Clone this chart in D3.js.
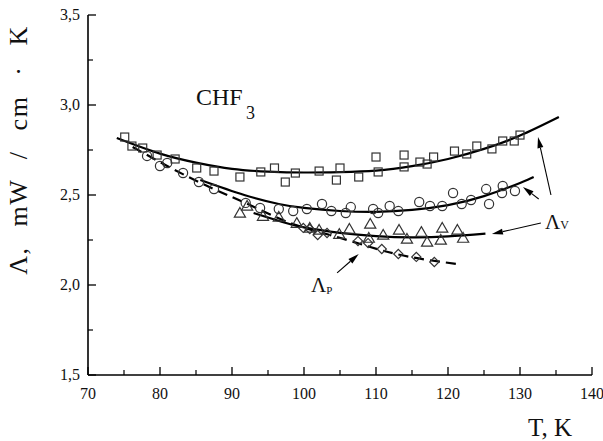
<!DOCTYPE html>
<html>
<head>
<meta charset="utf-8">
<script src="https://cdn.jsdelivr.net/npm/d3@7"></script>
<style>
  html, body { margin: 0; padding: 0; background: #fff; }
  svg text { font-family: "Liberation Serif", "DejaVu Serif", serif; fill: #111; }
</style>
</head>
<body>
<svg id="chart" width="603" height="441"></svg>
<script>
// Thermal conductivity of CHF3: measured points [T (K), Λ (mW / cm·K)]
const squares = [
  [75.1,2.822],[76.1,2.772],[77.6,2.761],[79.6,2.722],[82.1,2.700],[85.1,2.650],
  [87.5,2.633],[91.1,2.600],[94.0,2.628],[95.9,2.650],[97.4,2.572],[98.8,2.622],
  [102.1,2.633],[104.5,2.583],[105.0,2.650],[107.6,2.600],[110.0,2.711],[110.3,2.628],
  [113.9,2.722],[113.9,2.656],[116.1,2.683],[117.1,2.672],[118.0,2.711],[120.9,2.744],
  [122.6,2.728],[124.0,2.772],[126.1,2.756],[127.6,2.800],[129.2,2.800],[130.0,2.833]
];
const circles = [
  [78.2,2.717],[80.0,2.661],[81.0,2.678],[83.2,2.622],[85.4,2.572],[87.5,2.533],
  [91.9,2.456],[93.9,2.428],[96.5,2.422],[98.5,2.411],[100.4,2.422],[102.5,2.450],
  [103.8,2.411],[105.8,2.400],[106.5,2.433],[109.6,2.422],[110.3,2.400],[111.9,2.439],
  [113.1,2.411],[116.0,2.461],[117.5,2.439],[119.2,2.439],[120.7,2.511],[121.9,2.450],
  [123.2,2.472],[125.3,2.533],[125.7,2.450],[127.5,2.511],[127.6,2.550],[129.3,2.522]
];
const triangles = [
  [91.1,2.400],[92.1,2.439],[94.3,2.383],[96.5,2.378],[99.0,2.344],[100.8,2.317],
  [102.1,2.306],[104.9,2.283],[106.3,2.311],[109.2,2.339],[109.0,2.261],[111.0,2.278],
  [113.2,2.306],[114.3,2.256],[116.3,2.294],[117.1,2.239],[119.0,2.250],[119.2,2.317],
  [121.3,2.306],[122.1,2.261]
];
const diamonds = [
  [99.9,2.317],[100.8,2.311],[101.9,2.278],[103.2,2.289],[107.5,2.244],[108.9,2.233],
  [110.8,2.200],[113.1,2.172],[115.6,2.156],[118.1,2.128]
];

// Fitted curves (Λv: solid, Λp: dashed)
const fitUpper = [[74.0,2.817],[80,2.730],[85,2.680],[90,2.645],[95,2.630],[100,2.625],
  [105,2.627],[110,2.635],[115,2.660],[120,2.700],[125,2.756],[130,2.830],[135.4,2.933]];
const fitMiddle = [[85.6,2.583],[91.7,2.500],[96.5,2.450],[100,2.428],[105,2.411],
  [110,2.406],[115,2.417],[120,2.444],[125,2.494],[130,2.567],[131.9,2.600]];
const fitLower = [[93.0,2.400],[97,2.350],[100,2.320],[105,2.290],[110,2.272],
  [115,2.265],[120,2.270],[125.2,2.285]];
const fitDashed = [[76.2,2.767],[82,2.640],[87.5,2.533],[92.5,2.444],[98.1,2.344],
  [103.6,2.278],[109.2,2.211],[114.7,2.156],[121.25,2.117]];

// Annotation arrows [from, to] in data units
const arrowsV = [
  [[134.3,2.500],[132.5,2.822]],
  [[132.6,2.478],[130.4,2.544]],
  [[132.9,2.344],[126.1,2.283]]
];
const arrowsP = [[[104.6,2.067],[107.6,2.172]]];

const xTicks = [70,80,90,100,110,120,130,140];
const yTicks = [1.5,2.0,2.5,3.0,3.5];
const yTickLabels = ["1,5","2,0","2,5","3,0","3,5"];

const svg = d3.select("#chart");
const x = d3.scaleLinear().domain([70,140]).range([88,592]);
const y = d3.scaleLinear().domain([1.5,3.5]).range([375,15]);

// Axes
const xAxis = svg.append("g").attr("transform", `translate(0,${y(1.5)})`);
xAxis.append("line").attr("x1", x(70)).attr("x2", x(140)).attr("stroke","#000").attr("stroke-width",1.6);
xAxis.selectAll(".mj").data(xTicks).join("line")
  .attr("x1", d => x(d)).attr("x2", d => x(d)).attr("y1", 0).attr("y2", -8)
  .attr("stroke","#000").attr("stroke-width",1.3);
xAxis.selectAll(".mn").data(d3.range(75,140,10)).join("line")
  .attr("x1", d => x(d)).attr("x2", d => x(d)).attr("y1", 0).attr("y2", -5)
  .attr("stroke","#000").attr("stroke-width",1.2);
xAxis.selectAll("text").data(xTicks).join("text")
  .attr("x", d => x(d)).attr("y", 24).attr("text-anchor","middle")
  .attr("font-size", 16).text(d => d);

const yAxis = svg.append("g").attr("transform", `translate(${x(70)},0)`);
yAxis.append("line").attr("y1", y(1.5)).attr("y2", y(3.5)).attr("stroke","#000").attr("stroke-width",1.6);
yAxis.selectAll(".mj").data(yTicks).join("line")
  .attr("y1", d => y(d)).attr("y2", d => y(d)).attr("x1", 0).attr("x2", 8)
  .attr("stroke","#000").attr("stroke-width",1.3);
yAxis.selectAll(".mn").data([1.75,2.25,2.75,3.25]).join("line")
  .attr("y1", d => y(d)).attr("y2", d => y(d)).attr("x1", 0).attr("x2", 5)
  .attr("stroke","#000").attr("stroke-width",1.2);
yAxis.selectAll("text").data(yTicks).join("text")
  .attr("x", -8).attr("y", d => y(d) + 5).attr("text-anchor","end")
  .attr("font-size", 16).text((d,i) => yTickLabels[i]);

// Axis titles
svg.append("text").attr("x", 572).attr("y", 436).attr("text-anchor","end")
  .attr("font-size", 25).text("T, K");
svg.append("text")
  .attr("transform", `translate(27,150) rotate(-90)`)
  .attr("text-anchor","middle").attr("font-size", 26)
  .attr("letter-spacing", 1.5).attr("word-spacing", 12)
  .text("Λ, mW / cm · K");

// Substance label
svg.append("text").attr("x", 196).attr("y", 105).attr("font-size", 24).text("CHF");
svg.append("text").attr("x", 246).attr("y", 119).attr("font-size", 18).text("3");

// Curves
const line = d3.line().x(d => x(d[0])).y(d => y(d[1])).curve(d3.curveNatural);
const curves = svg.append("g").attr("fill","none").attr("stroke","#000");
[fitUpper, fitMiddle, fitLower].forEach(c =>
  curves.append("path").attr("d", line(c)).attr("stroke-width", 2.2));
curves.append("path").attr("d", line(fitDashed)).attr("stroke-width", 2.2)
  .attr("stroke-dasharray", "10,6");

// Markers
const mk = svg.append("g").attr("fill","none").attr("stroke","#333").attr("stroke-width",1.2);
mk.selectAll("rect").data(squares).join("rect")
  .attr("x", d => x(d[0]) - 4).attr("y", d => y(d[1]) - 4).attr("width", 8).attr("height", 8);
mk.selectAll("circle").data(circles).join("circle")
  .attr("cx", d => x(d[0])).attr("cy", d => y(d[1])).attr("r", 4.6);
const tri = d3.symbol().type(d3.symbolTriangle).size(54);
mk.selectAll(".tri").data(triangles).join("path")
  .attr("transform", d => `translate(${x(d[0])},${y(d[1]) + 1})`).attr("d", tri);
const dia = d3.symbol().type(d3.symbolSquare).size(42);
mk.selectAll(".dia").data(diamonds).join("path")
  .attr("transform", d => `translate(${x(d[0])},${y(d[1])}) rotate(45)`).attr("d", dia);

// Arrows
function arrow(a) {
  const x1 = x(a[0][0]), y1 = y(a[0][1]), x2 = x(a[1][0]), y2 = y(a[1][1]);
  const ang = Math.atan2(y2 - y1, x2 - x1), L = 11, W = 3;
  const bx = x2 - L * Math.cos(ang), by = y2 - L * Math.sin(ang);
  svg.append("line").attr("x1", x1).attr("y1", y1).attr("x2", bx).attr("y2", by)
    .attr("stroke","#000").attr("stroke-width",1.1);
  const px = -Math.sin(ang) * W, py = Math.cos(ang) * W;
  svg.append("path")
    .attr("d", `M${x2},${y2}L${bx + px},${by + py}L${bx - px},${by - py}Z`)
    .attr("fill","#000");
}
arrowsV.forEach(arrow);
arrowsP.forEach(arrow);

// Λv / Λp labels
const lv = svg.append("text").attr("x", 545).attr("y", 229).attr("font-size", 21);
lv.append("tspan").text("Λ");
lv.append("tspan").attr("font-size", 12).text("V");
const lp = svg.append("text").attr("x", 311).attr("y", 292).attr("font-size", 21);
lp.append("tspan").text("Λ");
lp.append("tspan").attr("font-size", 11).attr("dy", 2).text("P");
</script>
</body>
</html>
